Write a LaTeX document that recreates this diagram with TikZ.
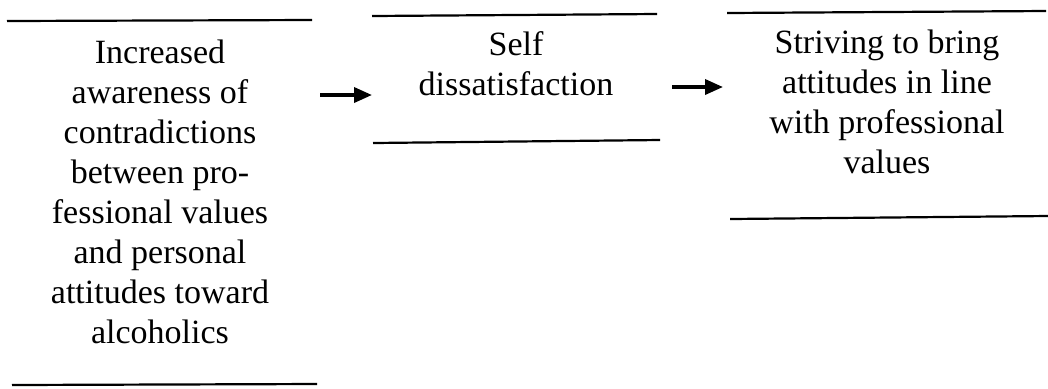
\documentclass[tikz,border=0pt]{standalone}
\usepackage{fontspec}
\setmainfont{Liberation Serif}
\usetikzlibrary{arrows.meta}
\tikzset{
  stage/.style={align=center, inner sep=0pt, font=\fontsize{17}{20}\selectfont},
  rule/.style={line width=1.1pt, black},
  flow/.style={line width=1.8pt, -{Triangle[length=9pt,width=7.5pt]}}
}
\begin{document}
\begin{tikzpicture}[x=0.5pt,y=-0.5pt]
  \useasboundingbox[fill=white] (0,0) rectangle (1048,388);

  % stage texts
  \node[stage] (awareness) at (160,192) {Increased\\awareness of\\contradictions\\between pro-\\fessional values\\and personal\\attitudes toward\\alcoholics};
  \node[stage] (dissat) at (516,64) {Self\\dissatisfaction};
  \node[stage] (striving) at (887,102) {Striving to bring\\attitudes in line\\with professional\\values};

  % rules above and below each stage
  \draw[rule] (7,21) -- (312,20);
  \draw[rule] (12,385) -- (317,384);
  \draw[rule] (372,16) -- (657,14);
  \draw[rule] (373,143) -- (660,140);
  \draw[rule] (727,13) -- (1046,11);
  \draw[rule] (730,219) -- (1048,216);

  % arrows between stages
  \coordinate (a1s) at (320,95);
  \coordinate (a1e) at (372,95);
  \coordinate (a2s) at (672,87);
  \coordinate (a2e) at (723,87);
  \draw[flow] (a1s) -- (a1e);
  \draw[flow] (a2s) -- (a2e);
\end{tikzpicture}
\end{document}
